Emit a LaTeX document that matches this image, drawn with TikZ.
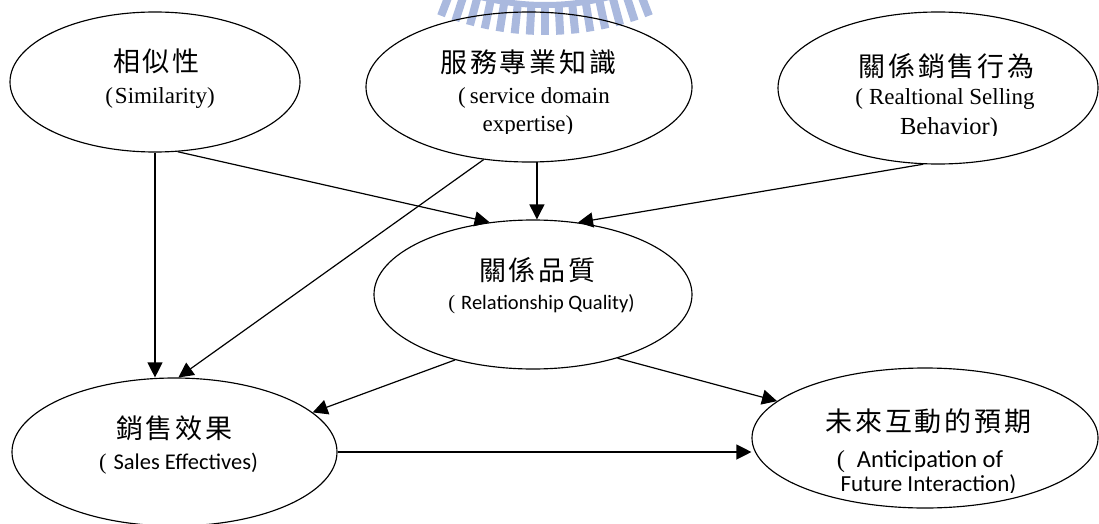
\documentclass[tikz,border=0pt]{standalone}
\usepackage{fontspec}
\setmainfont{Liberation Serif}
\newfontfamily\cjk[LetterSpace=11]{Noto Sans CJK TC}
\newfontfamily\calfont{Carlito}
\usetikzlibrary{shapes.geometric,arrows.meta}
\definecolor{logoblue}{RGB}{170,185,222}
\newcommand\openp[1][4pt]{(\hspace{#1}}
\tikzset{
  bubble/.style={draw, ellipse, line width=1.15pt, inner sep=0pt},
  link/.style={line width=1.2pt, -{Triangle[length=15pt,width=15pt]}},
  zh/.style={inner sep=0pt, font=\cjk\fontsize{27pt}{32pt}\selectfont},
  en/.style={inner sep=0pt, anchor=base, font=\fontsize{23pt}{27pt}\selectfont},
  ensans/.style={inner sep=0pt, anchor=base, font=\calfont\fontsize{#1}{#1}\selectfont},
}
\begin{document}
\begin{tikzpicture}[x=1pt,y=-1pt]
\useasboundingbox (0,0) rectangle (1099,524);

% university seal, only its lower rim shows at the top edge
\begin{scope}
  \clip (0,0) rectangle (1099,524);
  \fill[logoblue, even odd rule] (545,-255) circle (263) circle (257);
  \foreach \k in {-7,...,7}
    \draw[logoblue, line width=8pt, shift={(545,-255)}] ({90+3*\k}:258) -- ({90+3*\k}:290);
\end{scope}

% constructs
\node[bubble, minimum width=290pt, minimum height=140pt] (sim) at (155,82) {};
\node[bubble, minimum width=326pt, minimum height=150pt] (svc) at (529,87) {};
\node[bubble, minimum width=320pt, minimum height=152pt] (rel) at (938,88) {};
\node[bubble, minimum width=318pt, minimum height=149pt] (rq) at (533,294.5) {};
\node[bubble, minimum width=325pt, minimum height=148pt] (sal) at (174.5,452) {};
\node[bubble, minimum width=346pt, minimum height=140pt] (ant) at (925,438) {};

% labels
\node[zh] (simZh) at (155,61) {相似性\kern-3pt};
\node[en] (simEn) at (160,104) {\openp[2pt]Similarity)};

\node[zh] (svcZh) at (527,62) {服務專業知識\kern-3pt};
\node[en] (svcEn1) at (534,103) {\openp service domain};
\begin{scope}
  \clip (400,110) rectangle (660,133.5);
  \node[en] (svcEn2) at (528,131.5) {expertise)};
\end{scope}

\node[zh] (relZh) at (945,66) {關係銷售行為\kern-3pt};
\node[en] (relEn1) at (945,105) {\openp[6pt]Realtional Selling};
\begin{scope}
  \clip (850,112) rectangle (1050,135.5);
  \node[en, font=\fontsize{24.5pt}{28pt}\selectfont] (relEn2) at (949,134.3) {Behavior)};
\end{scope}

\node[zh] (rqZh) at (536,270) {關係品質\kern-3pt};
\node[ensans=20.5pt] (rqEn) at (541.5,309) {{\rmfamily\openp[6pt]}Relationship Quality)};

\node[zh] (salZh) at (173,428) {銷售效果\kern-3pt};
\node[ensans=22.5pt] (salEn) at (178.5,469) {{\rmfamily\openp[7pt]}Sales Effectives)};

\node[zh] (antZh) at (927,421) {未來互動的預期\kern-3pt};
\node[ensans=24.5pt] (antEn1) at (920,467) {{\rmfamily\openp[12pt]}Anticipation of};
\begin{scope}
  \clip (820,470) rectangle (1040,492);
  \node[ensans=23pt] (antEn2) at (928.5,491) {Future Interaction)};
\end{scope}

% paths
\draw[link] (sim.south) -- (sim.south |- sal.north);
\draw[link] (sim.-72.5) -- (rq.121.7);
\draw[link] (svc.-122.1) -- (sal.87.3);
\draw[link] (svc.-84.7) -- (svc.-84.7 |- rq.north);
\draw[link] (rel.-101.2) -- (rq.58.9);
\draw[link] (rq.-140.4) -- (sal.16.4);
\draw[link] (rq.-37.2) -- (ant.166.4);
\draw[link] (sal.east) -- (sal.east -| ant.west);
\end{tikzpicture}
\end{document}
